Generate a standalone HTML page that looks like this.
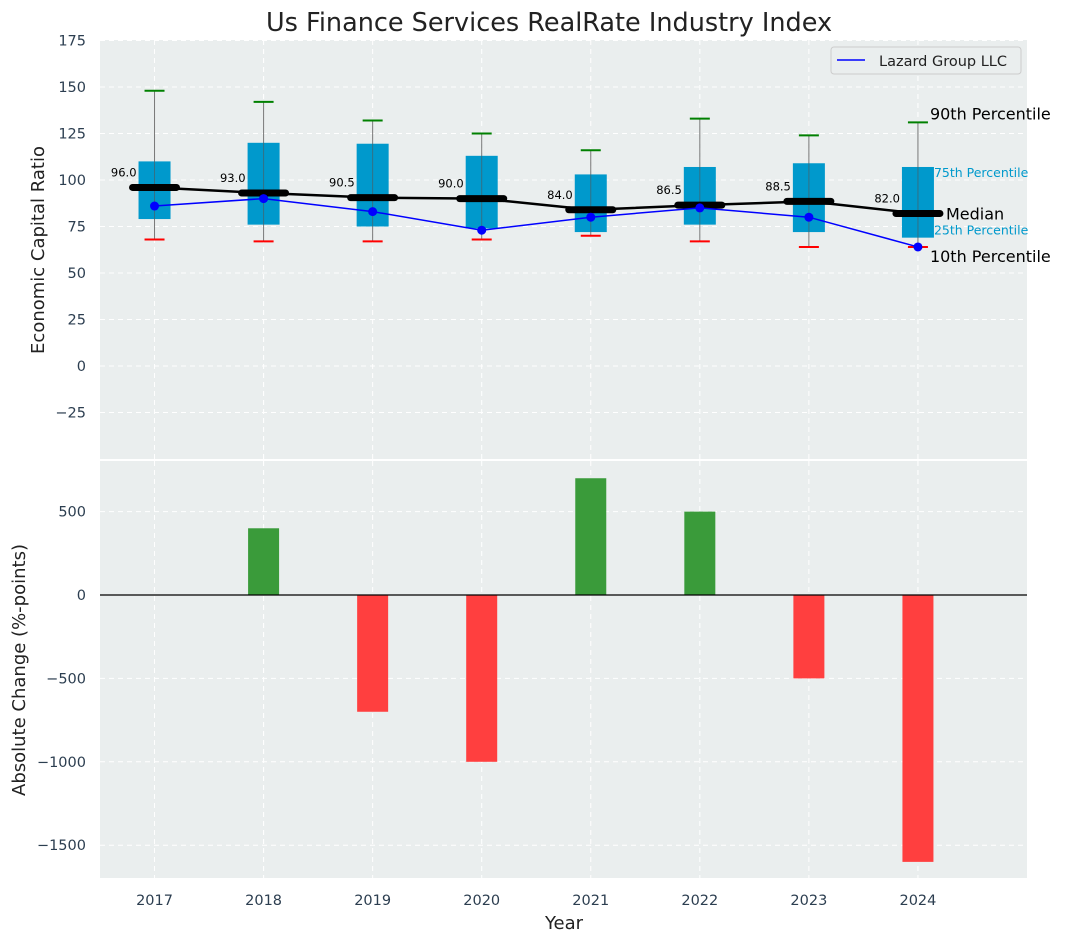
<!DOCTYPE html>
<html><head><meta charset="utf-8"><style>
body{margin:0;background:#fff;font-family:"Liberation Sans","DejaVu Sans",sans-serif}
svg text{font-family:"DejaVu Sans","Liberation Sans",sans-serif}
</style></head><body>
<svg id="c" width="1067" height="942" xmlns="http://www.w3.org/2000/svg"></svg>
<script>
const years=[2017,2018,2019,2020,2021,2022,2023,2024];
const p90=[148,142,132,125,116,133,124,131];
const p75=[110,120,119.5,113,103,107,109,107];
const med=[96,93,90.5,90,84,86.5,88.5,82];
const p25=[79,76,75,74,72,76,72,69];
const p10=[68,67,67,68,70,67,64,64];
const lazard=[86,90,83,73,80,85,80,64];
const changes=[0,400,-700,-1000,700,500,-500,-1600];
const topTicks=[-25,0,25,50,75,100,125,150,175];
const botTicks=[-1500,-1000,-500,0,500];

const NS="http://www.w3.org/2000/svg";
const svg=document.getElementById('c');
function el(t,a,p){const e=document.createElementNS(NS,t);for(const k in a)e.setAttribute(k,a[k]);(p||svg).appendChild(e);return e;}
const L=100,R=1027;
const x=v=>L+(v-2016.5)/(2025-2016.5)*(R-L);
const yT=v=>366-v*1.86;
const yB=v=>595-v*0.1668;

let e=el('text',{x:549,y:31,'font-size':25.5,'text-anchor':'middle',fill:'#222'});e.textContent='Us Finance Services RealRate Industry Index';


e=el('rect',{x:L,y:40,width:R-L,height:419,fill:'#eaeeee'});

e=el('rect',{x:L,y:461,width:R-L,height:417,fill:'#eaeeee'});


topTicks.forEach(t=>{el('line',{x1:L,x2:R,y1:yT(t),y2:yT(t),stroke:'#fff','stroke-dasharray':'5,4','stroke-width':1});
 e=el('text',{x:86,y:yT(t)+5,'font-size':14.5,'text-anchor':'end',fill:'#2c3e50'});e.textContent=t<0?'−'+(-t):t;
 });
botTicks.forEach(t=>{el('line',{x1:L,x2:R,y1:yB(t),y2:yB(t),stroke:'#fff','stroke-dasharray':'5,4','stroke-width':1});
 e=el('text',{x:86,y:yB(t)+5,'font-size':14.5,'text-anchor':'end',fill:'#2c3e50'});e.textContent=t<0?'−'+(-t):t;
 });
years.forEach(yr=>{const X=x(yr);
 el('line',{x1:X,x2:X,y1:40,y2:459,stroke:'#fff','stroke-dasharray':'5,4'});
 el('line',{x1:X,x2:X,y1:461,y2:878,stroke:'#fff','stroke-dasharray':'5,4'});
 e=el('text',{x:X,y:905,'font-size':14.5,'text-anchor':'middle',fill:'#2c3e50'});e.textContent=yr;
 });

years.forEach((yr,i)=>{const X=x(yr);
 e=el('line',{x1:X,x2:X,y1:yT(p10[i]),y2:yT(p90[i]),stroke:'#777','stroke-width':1});
 
 e=el('rect',{x:X-16,y:yT(p75[i]),width:32,height:yT(p25[i])-yT(p75[i]),fill:'#0099cc'});
 
 el('line',{x1:X,x2:X,y1:yT(p75[i]),y2:yT(p25[i]),stroke:'#555','stroke-width':1,opacity:.6});
 e=el('line',{x1:X-10,x2:X+10,y1:yT(p90[i]),y2:yT(p90[i]),stroke:'green','stroke-width':2});
 
 e=el('line',{x1:X-10,x2:X+10,y1:yT(p10[i]),y2:yT(p10[i]),stroke:'red','stroke-width':2});
 
});
e=el('polyline',{points:years.map((yr,i)=>x(yr)+','+yT(med[i])).join(' '),fill:'none',stroke:'#000','stroke-width':2.5});

years.forEach((yr,i)=>{const X=x(yr);
 e=el('line',{x1:X-22,x2:X+22,y1:yT(med[i]),y2:yT(med[i]),stroke:'#000','stroke-width':7,'stroke-linecap':'round'});
 
 e=el('text',{x:X-18,y:yT(med[i])-11,'font-size':11.5,'text-anchor':'end',fill:'#000'});e.textContent=med[i].toFixed(1);
 });
e=el('polyline',{points:years.map((yr,i)=>x(yr)+','+yT(lazard[i])).join(' '),fill:'none',stroke:'blue','stroke-width':1.5});

years.forEach((yr,i)=>{e=el('circle',{cx:x(yr),cy:yT(lazard[i]),r:4.5,fill:'blue'});
 });
const li=7,XL=x(years[li]);
[['90th Percentile',XL+12,yT(p90[li])-3,16,'#000'],['75th Percentile',XL+16,yT(p75[li])+10,12.5,'#0099cc'],
 ['Median',XL+28,yT(med[li])+6,16,'#000'],['25th Percentile',XL+16,yT(p25[li])-3,12.5,'#0099cc'],
 ['10th Percentile',XL+12,yT(p10[li])+15,16,'#000']].forEach(a=>{
 e=el('text',{x:a[1],y:a[2],'font-size':a[3],fill:a[4]});e.textContent=a[0];
 });
e=el('g',{});
el('rect',{x:831,y:47,width:190,height:27,rx:3,fill:'#eaeeee',stroke:'#ccc'},e);
el('line',{x1:837,x2:865,y1:60,y2:60,stroke:'blue','stroke-width':1.5},e);
let t=el('text',{x:879,y:66,'font-size':14.5,fill:'#222'},e);t.textContent='Lazard Group LLC';

years.forEach((yr,i)=>{const v=changes[i];if(!v)return;const X=x(yr);
 e=el('rect',{x:X-15.5,y:Math.min(yB(v),yB(0)),width:31,height:Math.abs(yB(v)-yB(0)),fill:v>0?'#3a9b3a':'#ff3f3f'});
 });
el('line',{x1:L,x2:R,y1:yB(0),y2:yB(0),stroke:'#000','stroke-width':1.2});

e=el('text',{x:0,y:0,'font-size':18,'text-anchor':'middle',fill:'#222',transform:'translate(44,250) rotate(-90)'});e.textContent='Economic Capital Ratio';

e=el('text',{x:0,y:0,'font-size':18,'text-anchor':'middle',fill:'#222',transform:'translate(25,670) rotate(-90)'});e.textContent='Absolute Change (%-points)';

e=el('text',{x:564,y:929,'font-size':18,'text-anchor':'middle',fill:'#222'});e.textContent='Year';

</script></body></html>
